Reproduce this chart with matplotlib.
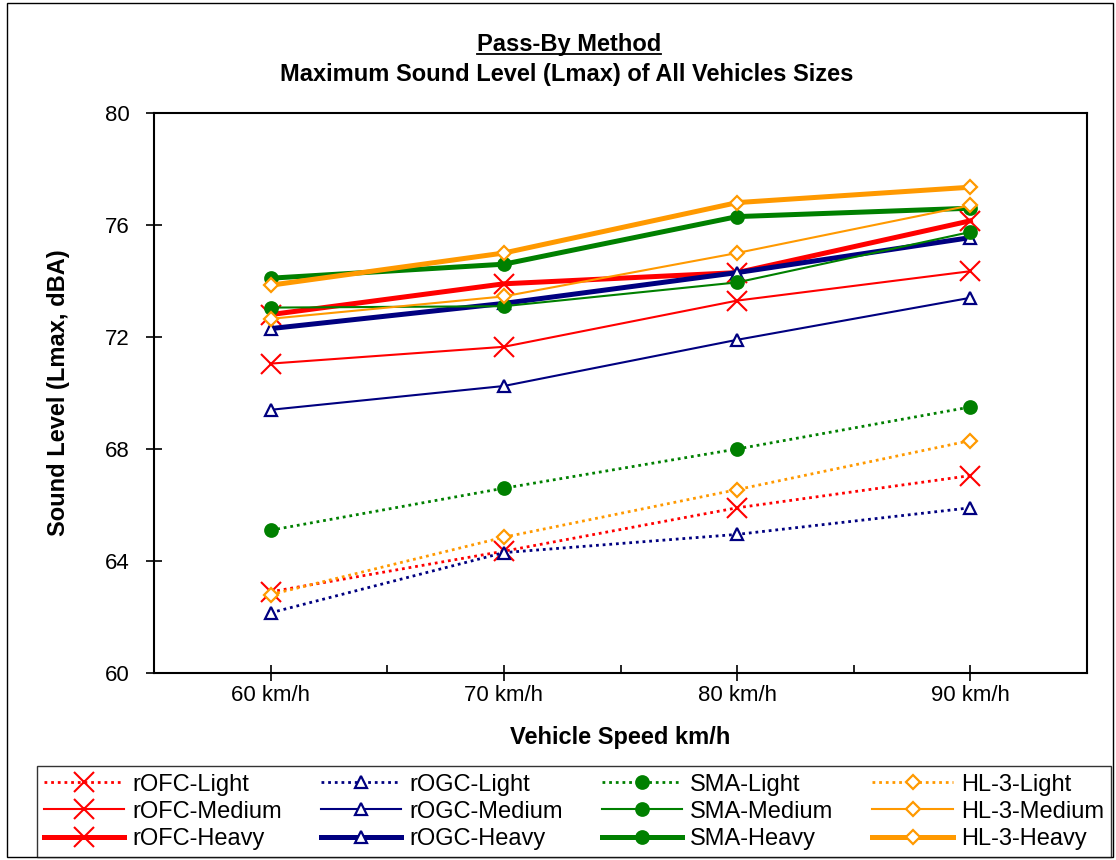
import matplotlib.pyplot as plt
from matplotlib.lines import Line2D
from matplotlib.patches import Rectangle
from matplotlib.ticker import MultipleLocator, FixedLocator

plt.rcParams['font.family'] = ['Liberation Sans', 'DejaVu Sans']

speeds = ['60 km/h', '70 km/h', '80 km/h', '90 km/h']

# Light vehicles
rofc_light = [62.9, 64.35, 65.9, 67.05]
rogc_light = [62.15, 64.3, 64.95, 65.9]
sma_light = [65.1, 66.6, 68.0, 69.5]
hl3_light = [62.8, 64.85, 66.55, 68.3]

# Medium vehicles
rofc_medium = [71.05, 71.65, 73.3, 74.35]
rogc_medium = [69.4, 70.25, 71.9, 73.4]
sma_medium = [73.05, 73.1, 73.95, 75.75]
hl3_medium = [72.65, 73.45, 75.0, 76.7]

# Heavy vehicles
rofc_heavy = [72.8, 73.9, 74.3, 76.15]
rogc_heavy = [72.3, 73.2, 74.3, 75.55]
sma_heavy = [74.1, 74.6, 76.3, 76.6]
hl3_heavy = [73.85, 75.0, 76.8, 77.35]

# colour, marker, marker size, filled
mixes = {
    'rOFC': ('#FF0000', 'x', 14, False),
    'rOGC': ('#000080', '^', 9, False),
    'SMA': ('#008000', 'o', 9, True),
    'HL-3': ('#FF9900', 'D', 7, False),
}
series = [
    ('rOFC-Light', 'rOFC', 'Light', rofc_light),
    ('rOFC-Medium', 'rOFC', 'Medium', rofc_medium),
    ('rOFC-Heavy', 'rOFC', 'Heavy', rofc_heavy),
    ('rOGC-Light', 'rOGC', 'Light', rogc_light),
    ('rOGC-Medium', 'rOGC', 'Medium', rogc_medium),
    ('rOGC-Heavy', 'rOGC', 'Heavy', rogc_heavy),
    ('SMA-Light', 'SMA', 'Light', sma_light),
    ('SMA-Medium', 'SMA', 'Medium', sma_medium),
    ('SMA-Heavy', 'SMA', 'Heavy', sma_heavy),
    ('HL-3-Light', 'HL-3', 'Light', hl3_light),
    ('HL-3-Medium', 'HL-3', 'Medium', hl3_medium),
    ('HL-3-Heavy', 'HL-3', 'Heavy', hl3_heavy),
]
styles = {
    'Light': ((0, (1, 1.4)), 2.0),
    'Medium': ('-', 1.5),
    'Heavy': ('-', 3.6),
}

fig = plt.figure(figsize=(11.16, 8.6), dpi=100)
ax = fig.add_axes([154 / 1116, 1 - 673 / 860, 933 / 1116, 560 / 860])

x = range(len(speeds))
for label, mix, size, values in series:
    color, marker, ms, filled = mixes[mix]
    ls, lw = styles[size]
    ax.plot(x, values, label=label, color=color, linestyle=ls, linewidth=lw,
            marker=marker, markersize=ms,
            markerfacecolor=color if (filled or marker == 'x') else 'white',
            markeredgecolor=color, markeredgewidth=1.6 if marker != 'x' else 1.5)

ax.set_xlim(-0.5, 3.5)
ax.set_ylim(60, 80)
ax.yaxis.set_major_locator(MultipleLocator(4))
ax.set_xticks(list(x))
ax.set_xticklabels(speeds)
ax.xaxis.set_minor_locator(FixedLocator([0.5, 1.5, 2.5]))

for s in ax.spines.values():
    s.set_linewidth(1.5)
ax.tick_params(axis='y', which='major', direction='inout', length=11, width=1.2,
               labelsize=16, pad=12)
ax.tick_params(axis='x', which='major', direction='inout', length=11, width=1.2,
               labelsize=16, pad=3)
ax.tick_params(axis='x', which='minor', direction='in', length=6, width=1.2)

ax.set_ylabel('Sound Level (Lmax, dBA)', fontsize=17, fontweight='bold')
ax.yaxis.set_label_coords(-0.09, 0.5)
ax.set_xlabel('Vehicle Speed km/h', fontsize=17, fontweight='bold')
ax.xaxis.set_label_coords(0.4995, -0.095)

t1 = fig.text(569 / 1116, 1 - 44 / 860, 'Pass-By Method', ha='center', va='center',
              fontsize=17, fontweight='bold')
fig.text(567 / 1116, 1 - 75 / 860, 'Maximum Sound Level (Lmax) of All Vehicles Sizes',
         ha='center', va='center', fontsize=17, fontweight='bold')

# underline the first title line
fig.canvas.draw()
bb = t1.get_window_extent().transformed(fig.transFigure.inverted())
fig.add_artist(Line2D([bb.x0, bb.x1], [bb.y0 + 0.002, bb.y0 + 0.002],
                      transform=fig.transFigure, color='black', linewidth=1.3))

leg = fig.legend(ncol=4, loc='lower left',
                 bbox_to_anchor=(37 / 1116, 3 / 860, 1074 / 1116, 94 / 860),
                 mode='expand', fontsize=17, frameon=True, fancybox=False,
                 edgecolor='black', handlelength=3.4, handletextpad=0.35,
                 labelspacing=0.22, borderpad=0.3, columnspacing=0.8,
                 borderaxespad=0)
leg.get_frame().set_linewidth(1.0)

fig.add_artist(Rectangle((0.006, 0.003), 0.991, 0.994, transform=fig.transFigure,
                         fill=False, edgecolor='black', linewidth=1.0))

fig.savefig('out.png', dpi=100)
